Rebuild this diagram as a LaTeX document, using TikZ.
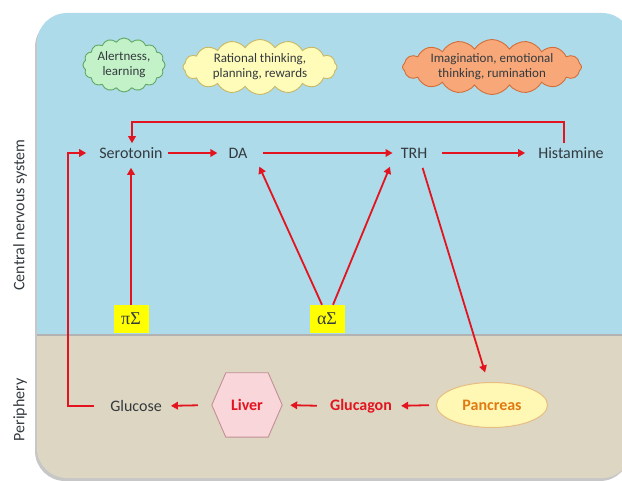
\documentclass[tikz,border=0pt]{standalone}
\usepackage{fontspec}
\setmainfont{Carlito}
\newfontfamily\sigfont{Liberation Serif}
\usetikzlibrary{shapes.symbols,shapes.geometric,arrows.meta}
\definecolor{cnsblue}{HTML}{ADDBE9}
\definecolor{peritan}{HTML}{DDD6C2}
\definecolor{arrred}{HTML}{E3141F}
\definecolor{txtgray}{HTML}{333A3F}
\definecolor{sigyellow}{HTML}{FFFF00}
\definecolor{cgreenf}{HTML}{C4F2C8}
\definecolor{cgreend}{HTML}{5FA863}
\definecolor{cyellowf}{HTML}{FFFBB8}
\definecolor{cyellowd}{HTML}{C8B865}
\definecolor{corangef}{HTML}{F8A878}
\definecolor{coranged}{HTML}{D26E3A}
\definecolor{liverf}{HTML}{F8D6DA}
\definecolor{liverd}{HTML}{C48E96}
\definecolor{pancf}{HTML}{FFF8B4}
\definecolor{pancd}{HTML}{E6BE84}
\definecolor{panctext}{HTML}{E07A12}
\begin{document}
\begin{tikzpicture}[x=1pt,y=-1pt,
  font=\fontsize{16}{18}\selectfont,
  lbl/.style={text=txtgray, inner sep=1pt},
  rarr/.style={draw=arrred, line width=1.8pt, -{Triangle[length=7pt,width=7.5pt]}},
  cloudnode/.style={cloud, cloud puffs=16, cloud puff arc=115, cloud ignores aspect,
     draw, line width=0.9pt, font=\fontsize{13}{15}\selectfont, align=center,
     inner sep=0pt, text=txtgray},
  sigbox/.style={fill=sigyellow, minimum width=35pt, minimum height=28pt, inner sep=0pt,
     font=\sigfont\fontsize{18}{19}\selectfont, text=txtgray}
]
\useasboundingbox (0,0) rectangle (622,481);
% background panels
\fill[black!22] (35,17) [rounded corners=30] rectangle (630,481);
\begin{scope}
\clip[rounded corners=30] (37,13) rectangle (632,478);
\fill[cnsblue] (30,0) rectangle (640,335);
\fill[peritan] (30,335) rectangle (640,481);
\draw[black!30, line width=1.2pt] (30,335) -- (640,335);
\end{scope}
% side labels
\node[lbl, rotate=90] (cnslbl) at (20,215) {Central nervous system};
\node[lbl, rotate=90] (perilbl) at (20,410) {Periphery};
% clouds
\node[cloudnode, fill=cgreenf, draw=cgreend, minimum width=82pt, minimum height=54pt] (c1) at (124,65) {Alertness,\\learning};
\node[cloudnode, fill=cyellowf, draw=cyellowd, minimum width=154pt, minimum height=55pt] (c2) at (260,67) {Rational thinking,\\planning, rewards};
\node[cloudnode, fill=corangef, draw=coranged, minimum width=179pt, minimum height=55pt] (c3) at (492,67) {Imagination, emotional\\thinking, rumination};
% CNS row
\node[lbl] (ser) at (131,153) {Serotonin};
\node[lbl] (da) at (238,153) {DA};
\node[lbl] (trh) at (414,153) {TRH};
\node[lbl] (hist) at (571,153) {Histamine};
\node[sigbox] (pi) at (131,319) {πΣ};
\node[sigbox] (al) at (327,319) {αΣ};
% periphery row
\node[lbl] (gluc) at (136,406) {Glucose};
\node[minimum width=70pt, minimum height=64pt, inner sep=0pt] (liver) at (247,405) {};
\fill[liverf, draw=liverd, line width=0.9pt]
   (liver.west) -- ([xshift=14pt]liver.north west) -- ([xshift=-14pt]liver.north east)
   -- (liver.east) -- ([xshift=-14pt]liver.south east) -- ([xshift=14pt]liver.south west) -- cycle;
\node[text=arrred, font=\fontsize{16}{18}\selectfont\bfseries] (livertxt) at (liver.center) {Liver};
\node[text=arrred, font=\fontsize{16}{18}\selectfont\bfseries, inner sep=1pt] (glucagon) at (361,406) {Glucagon};
\node[ellipse, fill=pancf, draw=pancd, line width=1pt, minimum width=111pt, minimum height=45pt,
      inner sep=0pt, text=panctext, font=\fontsize{16}{18}\selectfont\bfseries] (panc) at (492,405) {Pancreas};
% connectors CNS
\draw[rarr, shorten <=4pt, shorten >=10pt] (ser.east) -- (da.west);
\draw[rarr, shorten <=14pt, shorten >=7pt] (da.east) -- (trh.west);
\draw[rarr, shorten <=14pt, shorten >=12pt] (trh.east) -- (hist.west);
\draw[rarr, shorten <=3pt] ([xshift=-7pt]hist.north) -- ++(0,-24) -| ([xshift=1pt, yshift=3pt]ser.north);
\draw[rarr, shorten >=8pt] (pi.north) -- (ser.south);
\draw[rarr, shorten >=8pt] ([xshift=-5pt]al.north) -- ([xshift=18pt]da.south);
\draw[rarr, shorten >=8pt] ([xshift=6pt]al.north) -- ([xshift=-21pt]trh.south);
\draw[rarr, shorten <=9pt, shorten >=10pt] ([xshift=6pt]trh.south) -- ([xshift=-4pt]panc.north);
% connectors periphery
\draw[rarr, shorten <=7pt, shorten >=8pt] (panc.west) -- (glucagon.east);
\draw[rarr, shorten <=12pt, shorten >=8pt] (glucagon.west) -- (liver.east);
\draw[rarr, shorten <=14pt, shorten >=8pt] (liver.west) -- (gluc.east);
\draw[rarr, shorten <=15pt, shorten >=12pt] (gluc.west) -- ++(-41,0) |- (ser.west);
\end{tikzpicture}
\end{document}
